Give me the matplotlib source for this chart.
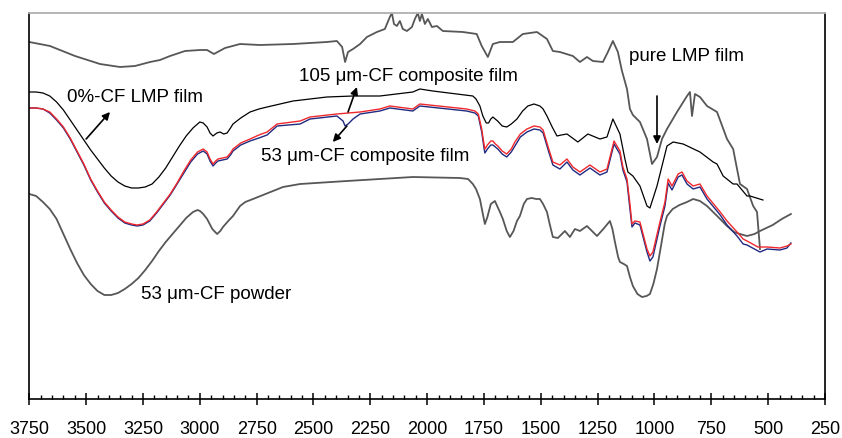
import matplotlib
matplotlib.use("Agg")
import matplotlib.pyplot as plt
from matplotlib.ticker import MultipleLocator

plt.rcParams['font.family'] = ['Liberation Sans', 'DejaVu Sans']

# Spectra: wavenumber (cm-1) and offset absorbance-like value (a.u., larger = lower on plot)
pure_w = [3750, 3659, 3549, 3439, 3351, 3285, 3219, 3175, 3131, 3065, 2999, 2968, 2938, 2889,
          2823, 2735, 2590, 2441, 2397, 2374, 2361, 2348, 2326, 2295, 2265, 2221, 2186, 2164,
          2155, 2146, 2133, 2120, 2107, 2089, 2067, 2054, 2041, 2032, 2023, 2010, 1997, 1979,
          1957, 1931, 1843, 1782, 1760, 1733, 1711, 1680, 1623, 1579, 1517, 1473, 1447, 1416,
          1359, 1328, 1297, 1271, 1227, 1205, 1183, 1161, 1143, 1121, 1108, 1095, 1064, 1033,
          1011, 989, 967, 945, 901, 857, 844, 835, 822, 800, 769, 725, 681, 654, 624, 593, 566,
          549, 536]
pure_v = [43, 47, 57, 65, 68, 67, 63, 61, 57, 52, 51, 51, 55, 49,
          45, 46, 45, 43, 42, 48, 63, 53, 50, 45, 38, 33, 30, 18,
          14, 25, 27, 22, 30, 32, 28, 20, 14, 22, 15, 25, 20, 28,
          27, 32, 33, 35, 47, 58, 45, 43, 43, 35, 33, 40, 52, 53,
          57, 63, 58, 62, 63, 53, 42, 53, 72, 90, 110, 116, 123, 140,
          165, 158, 140, 130, 113, 97, 93, 117, 95, 98, 107, 113, 140, 150, 185, 190, 207,
          213, 250]

cf0_w = [3750, 3720, 3690, 3660, 3630, 3600, 3570, 3540, 3510, 3480, 3450, 3420, 3390, 3360,
         3330, 3300, 3270, 3240, 3210, 3180, 3150, 3120, 3090, 3060, 3030, 3000, 2985, 2968,
         2955, 2942, 2925, 2911, 2895, 2880, 2865, 2854, 2820, 2779, 2740, 2704, 2590, 2441,
         2326, 2208, 2063, 2032, 1975, 1799, 1785, 1768, 1755, 1740, 1730, 1720, 1711, 1690,
         1670, 1650, 1630, 1605, 1580, 1557, 1530, 1504, 1490, 1473, 1450, 1429, 1410, 1385,
         1337, 1293, 1240, 1209, 1183, 1152, 1130, 1117, 1095, 1064, 1033, 1020, 989, 945,
         918, 874, 800, 742, 725, 698, 654, 637, 593, 580, 523]
cf0_v = [93, 93, 94, 97, 103, 111, 121, 131, 141, 151, 160, 169, 177, 183,
         187, 189, 189, 188, 185, 178, 169, 158, 147, 137, 129, 123, 124, 128,
         134, 137, 134, 133, 135, 134, 129, 125, 119, 113, 110, 108, 102, 98,
         97, 97, 93, 90, 92, 97, 100, 107, 117, 124, 124, 120, 118, 122,
         127, 128, 125, 120, 112, 107, 105, 107, 110, 117, 128, 137, 136, 135,
         143, 135, 140, 138, 120, 135, 160, 173, 177, 187, 207, 209, 187, 147,
         143, 145, 153, 163, 165, 177, 185, 185, 197, 197, 201]

cf105_w = [3750, 3720, 3690, 3660, 3630, 3600, 3570, 3540, 3510, 3480, 3450, 3420, 3390, 3360,
           3330, 3300, 3276, 3250, 3220, 3190, 3160, 3130, 3100, 3070, 3040, 3010, 2985, 2968,
           2955, 2942, 2930, 2920, 2900, 2880, 2865, 2854, 2820, 2779, 2740, 2704, 2660, 2559,
           2515, 2397, 2295, 2208, 2164, 2063, 2032, 1826, 1790, 1775, 1760, 1750, 1746, 1735,
           1720, 1711, 1700, 1689, 1670, 1650, 1630, 1614, 1590, 1561, 1530, 1504, 1490, 1482,
           1465, 1447, 1416, 1385, 1359, 1328, 1284, 1240, 1209, 1178, 1152, 1139, 1121, 1108,
           1099, 1086, 1064, 1033, 1020, 1007, 976, 954, 940, 923, 896, 879, 857, 830, 800, 769,
           711, 681, 637, 610, 593, 545, 505, 448, 417, 400]
cf105_v = [109, 109, 110, 113, 120, 128, 139, 152, 165, 180, 192, 203, 211, 218,
           223, 225, 226, 225, 221, 213, 204, 195, 184, 172, 161, 153, 150, 153,
           160, 165, 162, 160, 159, 158, 154, 150, 144, 140, 136, 133, 125, 122,
           118, 115, 113, 110, 107, 110, 105, 110, 112, 115, 130, 145, 150, 146,
           142, 142, 145, 147, 152, 155, 150, 143, 135, 130, 127, 128, 131, 137,
           150, 163, 166, 160, 168, 173, 166, 173, 170, 142, 152, 168, 180, 205,
           225, 222, 223, 250, 257, 253, 223, 203, 180, 187, 175, 173, 182, 187, 185, 197,
           213, 222, 233, 240, 242, 248, 248, 249, 247, 245]

cf53_w = [3750, 3720, 3690, 3660, 3630, 3600, 3570, 3540, 3510, 3480, 3450, 3420, 3390, 3360,
          3330, 3300, 3276, 3250, 3220, 3190, 3160, 3130, 3100, 3070, 3040, 3010, 2985, 2968,
          2955, 2942, 2930, 2920, 2900, 2880, 2865, 2854, 2820, 2779, 2740, 2704, 2660, 2559,
          2515, 2397, 2370, 2361, 2348, 2339, 2326, 2295, 2208, 2164, 2063, 2032, 1826, 1790,
          1775, 1760, 1750, 1746, 1735, 1720, 1711, 1700, 1689, 1670, 1650, 1630, 1614, 1590,
          1561, 1530, 1504, 1490, 1482, 1465, 1447, 1416, 1385, 1359, 1328, 1284, 1240, 1209,
          1178, 1152, 1139, 1121, 1108, 1099, 1086, 1064, 1033, 1020, 1007, 976, 954, 940, 923,
          896, 879, 857, 830, 800, 769, 711, 681, 637, 610, 593, 536, 505, 448, 417, 400]
cf53_v = [109, 109, 110, 114, 121, 129, 140, 153, 166, 181, 193, 204, 212, 219,
          224, 226, 227, 226, 222, 214, 205, 196, 185, 174, 163, 155, 152, 155,
          162, 167, 164, 162, 161, 160, 156, 152, 146, 142, 139, 136, 127, 125,
          120, 117, 122, 127, 125, 123, 120, 115, 112, 109, 112, 107, 112, 114,
          117, 133, 149, 154, 150, 146, 146, 148, 150, 155, 158, 153, 147, 138,
          133, 130, 131, 134, 140, 153, 166, 170, 163, 171, 176, 169, 176, 173,
          145, 155, 171, 183, 210, 228, 224, 226, 253, 262, 258, 227, 207, 184, 191,
          178, 176, 185, 190, 188, 200, 216, 226, 237, 245, 246, 253, 250, 251, 249, 244]

powder_w = [3750, 3720, 3690, 3660, 3630, 3600, 3570, 3540, 3510, 3480, 3450, 3420, 3390, 3360,
            3330, 3300, 3270, 3240, 3210, 3180, 3150, 3120, 3090, 3060, 3030, 3010, 2999, 2985,
            2968, 2945, 2924, 2910, 2898, 2875, 2854, 2823, 2800, 2766, 2700, 2634, 2559, 2353,
            2063, 1856, 1820, 1799, 1785, 1768, 1755, 1746, 1735, 1720, 1702, 1690, 1678, 1667,
            1650, 1636, 1620, 1605, 1592, 1575, 1561, 1540, 1520, 1504, 1490, 1473, 1460, 1447,
            1425, 1394, 1372, 1350, 1328, 1297, 1253, 1225, 1196, 1185, 1174, 1160, 1152, 1135,
            1121, 1108, 1095, 1075, 1055, 1035, 1020, 1005, 989, 970, 955, 945, 920, 890, 857,
            830, 800, 769, 720, 681, 650, 624, 593, 560, 536, 480, 440, 400]
powder_v = [195, 197, 203, 210, 220, 235, 250, 264, 276, 285, 292, 296, 296, 294,
            290, 285, 279, 271, 262, 252, 243, 235, 227, 219, 213, 211, 212, 215,
            220, 230, 235, 232, 228, 222, 217, 207, 203, 200, 194, 188, 185, 182,
            178, 179, 180, 185, 190, 200, 215, 225, 218, 205, 202, 208, 214, 220,
            232, 238, 232, 222, 217, 205, 200, 199, 200, 200, 205, 213, 226, 238,
            239, 232, 238, 230, 232, 227, 237, 230, 222, 230, 243, 258, 263, 265,
            267, 278, 287, 295, 298, 297, 295, 285, 270, 245, 225, 217, 210, 206, 203,
            200, 202, 207, 218, 227, 233, 235, 237, 235, 232, 226, 220, 215]

x_ticks = [3750, 3500, 3250, 3000, 2750, 2500, 2250, 2000, 1750, 1500, 1250, 1000, 750, 500, 250]

fig = plt.figure(figsize=(8.42, 4.39), dpi=100)
ax = fig.add_axes([29.3 / 842, 39 / 439, (825 - 29.3) / 842, (400 - 14) / 439])

gray = '#575757'
ax.plot(pure_w, pure_v, color=gray, lw=1.3)
ax.plot(powder_w, powder_v, color=gray, lw=1.3)
ax.plot(cf0_w, cf0_v, color='black', lw=0.9)
ax.plot(cf53_w, cf53_v, color='#1f2a80', lw=1.0)
ax.plot(cf105_w, cf105_v, color='#f0282d', lw=1.0)

ax.set_xlim(3750, 250)
ax.set_ylim(400, 14)
ax.set_xticks(x_ticks)
ax.set_xticklabels([str(t) for t in x_ticks])
ax.xaxis.set_minor_locator(MultipleLocator(50))
ax.set_yticks([])
ax.tick_params(axis='x', which='major', direction='inout', length=8, width=1.1,
               labelsize=13, pad=11, colors='black')
ax.tick_params(axis='x', which='minor', direction='in', length=3, width=1.0)

for s in ['left', 'bottom', 'right']:
    ax.spines[s].set_color('black')
    ax.spines[s].set_linewidth(1.2)
ax.spines['top'].set_color('#b0b0b0')
ax.spines['top'].set_linewidth(1.3)

fs = 13.5
ap = dict(arrowstyle='-|>', color='black', lw=1.2, mutation_scale=11, shrinkA=0, shrinkB=0)
ax.text(3285, 98, '0%-CF LMP film', fontsize=fs, ha='center', va='center')
ax.annotate('', xy=(3395, 113), xytext=(3500, 140), arrowprops=ap)
ax.text(2084, 77, '105 μm-CF composite film', fontsize=fs, ha='center', va='center')
ax.annotate('', xy=(2309, 88), xytext=(2348, 113), arrowprops=ap)
ax.text(2273, 157, '53 μm-CF composite film', fontsize=fs, ha='center', va='center')
ax.annotate('', xy=(2415, 143), xytext=(2353, 127), arrowprops=ap)
ax.text(861, 57, 'pure LMP film', fontsize=fs, ha='center', va='center')
ax.annotate('', xy=(989, 145), xytext=(989, 97), arrowprops=ap)
ax.text(2929, 295, '53 μm-CF powder', fontsize=fs, ha='center', va='center')

fig.savefig('out.png', dpi=100)
